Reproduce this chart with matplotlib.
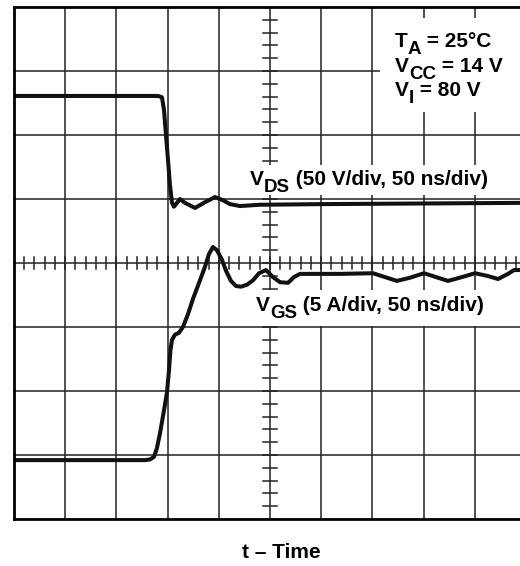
import numpy as np
import matplotlib
matplotlib.use("Agg")
import matplotlib.pyplot as plt
from matplotlib.patches import Rectangle

plt.rcParams['font.family'] = ['Liberation Sans', 'DejaVu Sans']

# scope traces: time in ns (50 ns/div), amplitude in screen divisions
t_ds = [0, 140.6, 144.5, 146.5, 148.4, 150.4, 152.3, 154.3, 156.2, 159.2, 162.1,
        167.0, 176.8, 186.5, 196.3, 204.1, 210.9, 220.7, 240.2, 300, 400, 500]
v_ds = [6.61, 6.61, 6.59, 6.39, 6.00, 5.61, 5.22, 4.94, 4.88, 4.94, 5.00,
        4.94, 4.86, 4.95, 5.03, 4.98, 4.92, 4.89, 4.91, 4.92, 4.93, 4.94]

t_gs = [0, 127.9, 132.8, 136.7, 139.6, 142.6, 146.5, 149.4, 151.4, 152.8, 154.3,
        157.2, 161.1, 165.0, 169.9, 174.8, 180.7, 186.5, 190.4, 194.3, 198.2,
        203.1, 207.0, 211.9, 216.8, 221.7, 227.5, 233.4, 239.3, 246.1, 252.9,
        259.8, 267.6, 273.4, 279.3, 298.8, 318.4, 350.6, 362.3, 374.0, 386.7,
        400.4, 412.1, 423.8, 437.5, 450.2, 461.9, 472.7, 482.4, 488.3, 500]
v_gs = [0.92, 0.92, 0.93, 0.97, 1.11, 1.34, 1.70, 1.98, 2.33, 2.64, 2.80,
        2.88, 2.91, 3.00, 3.20, 3.44, 3.69, 3.94, 4.14, 4.25, 4.20,
        4.05, 3.88, 3.72, 3.64, 3.63, 3.66, 3.73, 3.84, 3.89, 3.78,
        3.70, 3.69, 3.78, 3.83, 3.83, 3.83, 3.84, 3.78, 3.72, 3.77,
        3.84, 3.78, 3.72, 3.78, 3.84, 3.80, 3.75, 3.83, 3.89, 3.89]

# labels as (text, is_subscript) runs
cond_lines = [[('T', False), ('A', True), (' = 25°C', False)],
              [('V', False), ('CC', True), (' = 14 V', False)],
              [('V', False), ('I', True), (' = 80 V', False)]]
cond_y = [7.38, 6.99, 6.61]
vds_label = [('V', False), ('DS', True), (' (50 V/div, 50 ns/div)', False)]
vgs_label = [('V', False), ('GS', True), (' (5 A/div, 50 ns/div)', False)]

fig = plt.figure(figsize=(5.2, 5.66), dpi=100)
ax = fig.add_axes([14 / 520, 47 / 566, 512 / 520, 512 / 566])
ax.set_xlim(0, 500)
ax.set_ylim(0, 8)
renderer = fig.canvas.get_renderer()

FS = 15


def rich_text(x, y, runs, size=FS):
    dx = 0.0
    for s, sub in runs:
        fsz = size * 0.9 if sub else size
        dy = -0.36 * size if sub else 0.0
        t = ax.annotate(s, (x, y), xytext=(dx, dy), textcoords='offset points',
                        fontsize=fsz, fontweight='bold', va='baseline', zorder=3,
                        annotation_clip=False)
        dx += t.get_window_extent(renderer).width * 72 / fig.dpi


# graticule
grid_c = '#222222'
for x in np.arange(50, 500, 50):
    ax.axvline(x, color=grid_c, lw=1.1, zorder=1)
for y in np.arange(1, 8, 1):
    ax.axhline(y, color=grid_c, lw=1.1, zorder=1)
for x in np.arange(0, 501, 10):
    ax.plot([x, x], [4 - 0.094, 4 + 0.094], color=grid_c, lw=1.1, zorder=1)
for y in np.arange(0, 8.01, 0.2):
    ax.plot([250 - 6.8, 250 + 6.8], [y, y], color=grid_c, lw=1.1, zorder=1)

# white label panels over the graticule
for x0, y0, w, h in [(357, 6.36, 160, 1.47), (220, 5.06, 270, 0.47), (220, 3.02, 265, 0.56)]:
    ax.add_patch(Rectangle((x0, y0), w, h, facecolor='white', edgecolor='none', zorder=2))

ax.plot(t_ds, v_ds, color='#111111', lw=2.9, solid_joinstyle='round', solid_capstyle='round', zorder=4)
ax.plot(t_gs, v_gs, color='#111111', lw=2.9, solid_joinstyle='round', solid_capstyle='round', zorder=4)

for runs, y in zip(cond_lines, cond_y):
    rich_text(372, y, runs)
rich_text(230.5, 5.22, vds_label)
rich_text(236.3, 3.25, vgs_label)

ax.set_xticks([])
ax.set_yticks([])
for sp in ax.spines.values():
    sp.set_linewidth(2.0)
    sp.set_zorder(5)

fig.text(281 / 520, 8 / 566, 't – Time', fontsize=FS, fontweight='bold', ha='center', va='baseline')

fig.savefig('out.png', dpi=100)
